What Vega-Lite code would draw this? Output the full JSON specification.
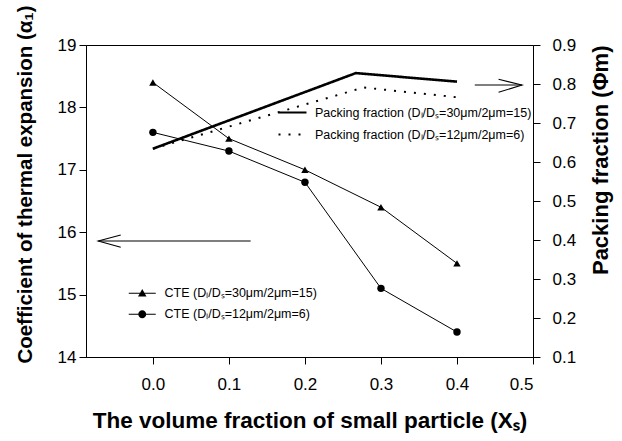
{
  "$schema": "https://vega.github.io/schema/vega-lite/v6.json",
  "width": 447,
  "height": 312,
  "autosize": {"type": "none"},
  "padding": {"left": 86, "top": 45, "right": 89, "bottom": 84},
  "background": "white",
  "config": {
    "font": "Liberation Sans",
    "view": {"stroke": "black", "strokeWidth": 1},
    "axis": {
      "grid": false,
      "domainColor": "black",
      "tickColor": "black",
      "labelColor": "black",
      "titleColor": "black",
      "labelFont": "Liberation Sans",
      "titleFont": "Liberation Sans",
      "labelFontSize": 17,
      "titleFontSize": 21,
      "titleFontWeight": "bold",
      "tickSize": 7,
      "domainWidth": 1,
      "tickWidth": 1
    },
    "legend": {
      "labelFont": "Liberation Sans",
      "labelFontSize": 12.5,
      "labelColor": "black",
      "labelLimit": 0,
      "padding": 0,
      "rowPadding": 7
    }
  },
  "layer": [
    {
      "layer": [
        {
          "data": {
            "values": [
              {"series": "CTE (Dₗ/Dₛ=30μm/2μm=15)", "x": 0.0, "y": 18.4},
              {"series": "CTE (Dₗ/Dₛ=30μm/2μm=15)", "x": 0.1, "y": 17.5},
              {"series": "CTE (Dₗ/Dₛ=30μm/2μm=15)", "x": 0.2, "y": 17.0},
              {"series": "CTE (Dₗ/Dₛ=30μm/2μm=15)", "x": 0.3, "y": 16.4},
              {"series": "CTE (Dₗ/Dₛ=30μm/2μm=15)", "x": 0.4, "y": 15.5},
              {"series": "CTE (Dₗ/Dₛ=12μm/2μm=6)", "x": 0.0, "y": 17.6},
              {"series": "CTE (Dₗ/Dₛ=12μm/2μm=6)", "x": 0.1, "y": 17.3},
              {"series": "CTE (Dₗ/Dₛ=12μm/2μm=6)", "x": 0.2, "y": 16.8},
              {"series": "CTE (Dₗ/Dₛ=12μm/2μm=6)", "x": 0.3, "y": 15.1},
              {"series": "CTE (Dₗ/Dₛ=12μm/2μm=6)", "x": 0.4, "y": 14.4}
            ]
          },
          "layer": [
            {
              "mark": {"type": "line", "color": "black", "strokeWidth": 1},
              "encoding": {
                "detail": {"field": "series", "type": "nominal"}
              }
            },
            {
              "mark": {"type": "point", "filled": true, "color": "black", "size": 55, "opacity": 1},
              "encoding": {
                "shape": {
                  "condition": {"test": "indexof(datum.series, '=15') >= 0", "value": "triangle-up"},
                  "value": "circle"
                }
              }
            },
            {
              "mark": {"type": "point", "filled": true, "color": "black", "opacity": 0},
              "encoding": {
                "shape": {
                  "field": "series",
                  "type": "nominal",
                  "scale": {
                    "domain": ["CTE (Dₗ/Dₛ=30μm/2μm=15)", "CTE (Dₗ/Dₛ=12μm/2μm=6)"],
                    "range": [
                      "M-2.7,-0.1H2.7V0.1H-2.7ZM0,-0.85L0.85,0.65L-0.85,0.65Z",
                      "M-2.7,-0.1H2.7V0.1H-2.7ZM0.8,0A0.8,0.8,0,1,1,-0.8,0A0.8,0.8,0,1,1,0.8,0Z"
                    ]
                  },
                  "legend": {
                    "orient": "none",
                    "legendX": 50,
                    "legendY": 242,
                    "title": null,
                    "symbolSize": 100,
                    "symbolOpacity": 1,
                    "symbolFillColor": "black",
                    "labelOffset": 16
                  }
                }
              }
            }
          ],
          "encoding": {
            "x": {"field": "x", "type": "quantitative"},
            "y": {"field": "y", "type": "quantitative"}
          }
        },
        {
          "data": {
            "values": [
              {"part": "left shaft", "ord": 1, "x": 0.1286, "y": 15.86},
              {"part": "left shaft", "ord": 2, "x": -0.0719, "y": 15.86},
              {"part": "left head", "ord": 1, "x": -0.0423, "y": 15.955},
              {"part": "left head", "ord": 2, "x": -0.0719, "y": 15.86},
              {"part": "left head", "ord": 3, "x": -0.0423, "y": 15.758},
              {"part": "right shaft", "ord": 1, "x": 0.4234, "y": 18.359},
              {"part": "right shaft", "ord": 2, "x": 0.4855, "y": 18.359},
              {"part": "right head", "ord": 1, "x": 0.4547, "y": 18.45},
              {"part": "right head", "ord": 2, "x": 0.4855, "y": 18.359},
              {"part": "right head", "ord": 3, "x": 0.4547, "y": 18.242}
            ]
          },
          "mark": {"type": "line", "color": "black", "strokeWidth": 1.1},
          "encoding": {
            "x": {"field": "x", "type": "quantitative"},
            "y": {"field": "y", "type": "quantitative"},
            "detail": {"field": "part", "type": "nominal"},
            "order": {"field": "ord", "type": "quantitative"}
          }
        }
      ],
      "encoding": {
        "x": {
          "field": "x",
          "type": "quantitative",
          "scale": {"domain": [-0.088, 0.5], "nice": false, "zero": false},
          "axis": {
            "values": [0, 0.1, 0.2, 0.3, 0.4, 0.5],
            "format": ".1f",
            "labelPadding": 12,
            "titlePadding": 17,
            "titleFontSize": 22.5,
            "title": "The volume fraction of small particle (Xₛ)"
          }
        },
        "y": {
          "field": "y",
          "type": "quantitative",
          "scale": {"domain": [14, 19], "nice": false, "zero": false},
          "axis": {
            "values": [14, 15, 16, 17, 18, 19],
            "labelPadding": 3,
            "titlePadding": 22,
            "titleFontSize": 20.5,
            "titleY": 139,
            "title": "Coefficient of thermal expansion (α₁)"
          }
        }
      }
    },
    {
      "data": {
        "values": [
          {"series": "Packing fraction (Dₗ/Dₛ=30μm/2μm=15)", "x": 0.0, "phi": 0.634},
          {"series": "Packing fraction (Dₗ/Dₛ=30μm/2μm=15)", "x": 0.267, "phi": 0.828},
          {"series": "Packing fraction (Dₗ/Dₛ=30μm/2μm=15)", "x": 0.4, "phi": 0.806},
          {"series": "Packing fraction (Dₗ/Dₛ=12μm/2μm=6)", "x": 0.0, "phi": 0.634},
          {"series": "Packing fraction (Dₗ/Dₛ=12μm/2μm=6)", "x": 0.277, "phi": 0.791},
          {"series": "Packing fraction (Dₗ/Dₛ=12μm/2μm=6)", "x": 0.4, "phi": 0.766}
        ]
      },
      "mark": {"type": "line", "color": "black"},
      "encoding": {
        "x": {"field": "x", "type": "quantitative"},
        "y": {
          "field": "phi",
          "type": "quantitative",
          "scale": {"domain": [0.1, 0.9], "nice": false, "zero": false},
          "axis": {
            "orient": "right",
            "values": [0.1, 0.2, 0.3, 0.4, 0.5, 0.6, 0.7, 0.8, 0.9],
            "format": ".1f",
            "labelPadding": 12,
            "titlePadding": 15,
            "titleFontSize": 22,
            "titleAngle": 270,
            "titleBaseline": "top",
            "titleAnchor": "end",
            "title": "Packing fraction (Φm)"
          }
        },
        "strokeDash": {
          "field": "series",
          "type": "nominal",
          "scale": {
            "domain": ["Packing fraction (Dₗ/Dₛ=30μm/2μm=15)", "Packing fraction (Dₗ/Dₛ=12μm/2μm=6)"],
            "range": [[1, 0], [2, 8]]
          },
          "legend": {
            "orient": "none",
            "legendX": 200,
            "legendY": 61,
            "title": null,
            "symbolType": "M-2.8,0H2.8",
            "symbolSize": 100,
            "symbolStrokeColor": "black",
            "symbolStrokeWidth": 2.2,
            "labelOffset": 16,
            "rowPadding": 9
          }
        },
        "strokeWidth": {
          "condition": {"test": "indexof(datum.series, '=15') >= 0", "value": 2.6},
          "value": 2
        }
      }
    }
  ],
  "resolve": {"scale": {"y": "independent"}}
}
